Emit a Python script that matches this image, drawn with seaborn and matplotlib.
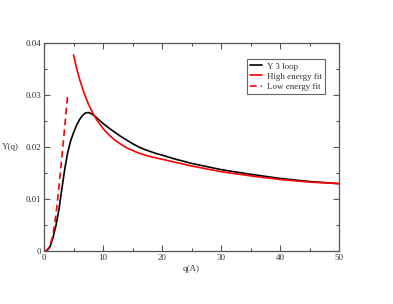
import matplotlib
matplotlib.use("Agg")
import matplotlib.pyplot as plt
from matplotlib.ticker import MultipleLocator, FuncFormatter
import seaborn as sns
import pandas as pd

# Y 3 loop
q_loop = [0, 0.5, 1, 1.5, 2, 2.5, 3, 3.5, 4, 4.5, 5, 5.5, 6, 6.5, 7, 7.5, 8, 8.5, 9, 10,
          11, 12, 13, 14, 15, 16, 17, 18, 19, 20, 22, 25, 30, 35, 40, 45, 50]
y_loop = [0, 0.0001, 0.0008, 0.0025, 0.0048, 0.0078, 0.0118, 0.0157, 0.0189, 0.0212,
          0.0228, 0.0242, 0.0253, 0.0261, 0.0266, 0.0267, 0.0265, 0.0261, 0.0256, 0.0246,
          0.0237, 0.0229, 0.0221, 0.0214, 0.0207, 0.0201, 0.0196, 0.0192, 0.0188, 0.0185,
          0.0178, 0.0169, 0.0157, 0.0148, 0.0140, 0.0134, 0.0130]

# High energy fit
q_high = [5, 5.5, 6, 6.5, 7, 7.5, 8, 8.5, 9, 9.5, 10, 11, 12, 13, 14, 16, 18, 20, 25,
          30, 35, 40, 45, 50]
y_high = [0.0378, 0.0353, 0.0332, 0.0314, 0.0298, 0.0284, 0.0272, 0.0261, 0.0252,
          0.0244, 0.0236, 0.0224, 0.0214, 0.0206, 0.0199, 0.0189, 0.0182, 0.0177, 0.0164,
          0.0153, 0.0145, 0.0138, 0.0133, 0.0130]

# Low energy fit
q_low = [0, 0.5, 1, 1.5, 2, 2.5, 3, 3.5, 4]
y_low = [0, 0.0002, 0.0010, 0.0030, 0.0068, 0.0120, 0.0178, 0.0238, 0.0300]

sns.set_style("ticks")
plt.rcParams['font.family'] = ['Liberation Serif', 'DejaVu Serif']

fig = plt.figure(figsize=(3.93, 3.04), dpi=100)
ax = fig.add_axes([0.112, 0.174, 0.7506, 0.683])

sns.lineplot(x=q_loop, y=y_loop, ax=ax, color='black', lw=1.2, label='Y 3 loop')
sns.lineplot(x=q_high, y=y_high, ax=ax, color='#ff0000', lw=1.2, label='High energy fit')
sns.lineplot(x=q_low, y=y_low, ax=ax, color='#ff0000', lw=1.2, label='Low energy fit')
ax.lines[-1].set_dashes((4, 2.5))

ax.set_xlim(0, 50)
ax.set_ylim(0, 0.04)
ax.xaxis.set_major_locator(MultipleLocator(10))
ax.xaxis.set_minor_locator(MultipleLocator(5))
ax.yaxis.set_major_locator(MultipleLocator(0.01))
ax.yaxis.set_minor_locator(MultipleLocator(0.005))
fmt = FuncFormatter(lambda v, p: f'{round(v, 4):g}')
ax.xaxis.set_major_formatter(fmt)
ax.yaxis.set_major_formatter(fmt)
ax.tick_params(which='both', direction='in', top=True, right=True, colors='#555555',
               labelcolor='#333333', labelsize=6.5, width=0.8, pad=2)
ax.tick_params(which='major', length=4)
ax.tick_params(which='minor', length=2)
for s in ax.spines.values():
    s.set_color('#555555')
    s.set_linewidth(0.9)

ax.set_xlabel('q(A)', fontsize=6.5, color='#333333', labelpad=2)
ax.set_ylabel('')
ax.text(-0.085, 0.5, 'Y(q)', transform=ax.transAxes, fontsize=6.5, color='#333333',
        ha='right', va='center')

handles, labels = ax.get_legend_handles_labels()
handles[2].set_dashes((4, 2.5))
leg = ax.legend(handles, labels, loc='upper right', bbox_to_anchor=(0.9525, 0.925), fontsize=6.5,
                frameon=True, fancybox=False, edgecolor='#666666', framealpha=1,
                handlelength=1.3, handletextpad=0.6, borderpad=0.35, labelspacing=0.2,
                borderaxespad=0)
leg.get_frame().set_linewidth(0.8)
for t in leg.get_texts():
    t.set_color('#333333')

fig.savefig('out.png', dpi=100)
